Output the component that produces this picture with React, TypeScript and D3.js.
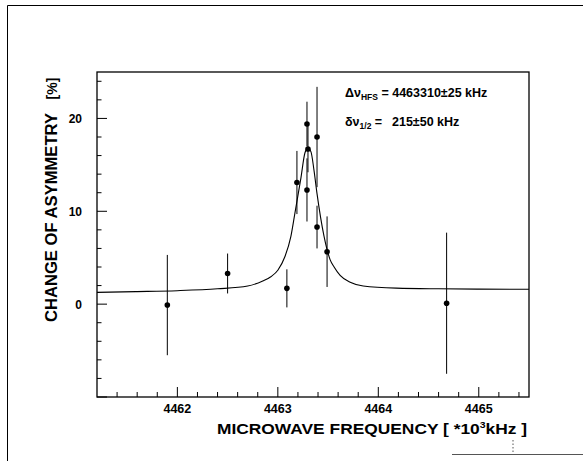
import React from "react";
import * as d3 from "d3";

const freq = [4461.9, 4462.5, 4463.09, 4463.19, 4463.29, 4463.3, 4463.29, 4463.39, 4463.39, 4463.49, 4464.68];
const asym = [-0.1, 3.3, 1.7, 13.1, 19.4, 16.7, 12.3, 18.0, 8.3, 5.65, 0.1];
const errs = [5.4, 2.15, 2.05, 3.4, 2.4, 2.5, 3.4, 5.4, 2.3, 3.8, 7.6];

const fitX = [4461.2, 4461.6, 4462.0, 4462.4, 4462.7, 4462.85, 4462.93, 4463.0, 4463.07, 4463.13, 4463.17, 4463.23, 4463.27, 4463.3, 4463.33, 4463.36, 4463.39, 4463.46, 4463.52, 4463.56, 4463.62, 4463.72, 4463.85, 4464.18, 4464.6, 4465.0, 4465.5];
const fitY = [1.27, 1.35, 1.45, 1.65, 1.95, 2.5, 2.95, 3.65, 5.1, 7.3, 9.8, 13.6, 16.3, 16.8, 16.4, 14.4, 11.9, 7.3, 4.8, 4.0, 3.1, 2.35, 1.95, 1.72, 1.65, 1.62, 1.6];

const xMajor = [4462, 4463, 4464, 4465];
const yMajor = [0, 10, 20];

const FONT = "'Liberation Sans', Arial, Helvetica, sans-serif";

export default function App() {
  const L = 97, R = 529, T = 72, B = 397;
  const x = d3.scaleLinear().domain([4461.2, 4465.5]).range([L, R]);
  const y = d3.scaleLinear().domain([-10, 25]).range([B, T]);

  const xMinor = d3.range(4461.4, 4465.5, 0.2).map((v) => Math.round(v * 10) / 10);
  const yMinor = d3.range(-10, 25.01, 2);

  const line = d3
    .line<number>()
    .x((_, i) => x(fitX[i]))
    .y((_, i) => y(fitY[i]))
    .curve(d3.curveMonotoneX);

  return (
    <svg width={583} height={461} style={{ position: "absolute", left: 0, top: 0, background: "#fff" }}>
      {/* outer page frame */}
      <line x1={7.5} y1={5.5} x2={583} y2={5.5} stroke="#000" strokeWidth={1} />
      <line x1={7.5} y1={5.5} x2={7.5} y2={461} stroke="#000" strokeWidth={1} />
      <line x1={452} y1={454.5} x2={583} y2={454.5} stroke="#555" strokeWidth={1} />
      <line x1={513} y1={440} x2={513} y2={454} stroke="#555" strokeWidth={1} strokeDasharray="1.5,2" />

      {/* plot frame */}
      <rect x={L} y={T} width={R - L} height={B - T} fill="none" stroke="#000" strokeWidth={1.3} />

      {/* x ticks */}
      {xMinor.map((v) => (
        <line key={"xm" + v} x1={x(v)} x2={x(v)} y1={B} y2={B - (xMajor.includes(v) ? 10 : 5)} stroke="#000" strokeWidth={1} />
      ))}
      {xMajor.map((v) => (
        <text key={"xl" + v} x={x(v)} y={412.5} textAnchor="middle" fontFamily={FONT} fontWeight="bold" fontSize={12.5}>
          {v}
        </text>
      ))}

      {/* y ticks */}
      {yMinor.map((v) => (
        <line key={"ym" + v} x1={L} x2={L + (v % 10 === 0 ? 10 : 4.5)} y1={y(v)} y2={y(v)} stroke="#000" strokeWidth={1} />
      ))}
      {yMajor.map((v) => (
        <text key={"yl" + v} x={82} y={y(v) + 4.5} textAnchor="end" fontFamily={FONT} fontWeight="bold" fontSize={12}>
          {v}
        </text>
      ))}

      {/* fit curve */}
      <path d={line(fitX) || ""} fill="none" stroke="#000" strokeWidth={1.1} />

      {/* data with error bars */}
      {freq.map((f, i) => (
        <g key={"p" + i}>
          <line x1={x(f)} x2={x(f)} y1={y(asym[i] - errs[i])} y2={y(asym[i] + errs[i])} stroke="#000" strokeWidth={1} />
          <circle cx={x(f)} cy={y(asym[i])} r={2.8} fill="#000" />
        </g>
      ))}

      {/* annotations */}
      <text x={345} y={97} fontFamily={FONT} fontWeight="bold" fontSize={12.5}>
        Δν
        <tspan fontSize={8.5} dy={3}>HFS</tspan>
        <tspan dy={-3}> = 4463310±25 kHz</tspan>
      </text>
      <text x={345} y={126} fontFamily={FONT} fontWeight="bold" fontSize={12.5}>
        δν
        <tspan fontSize={8.5} dy={3}>1/2</tspan>
        <tspan dy={-3}> =</tspan>
      </text>
      <text x={392} y={126} fontFamily={FONT} fontWeight="bold" fontSize={12.5}>
        215±50 kHz
      </text>

      {/* axis titles */}
      <text x={217} y={433.5} fontFamily={FONT} fontWeight="bold" fontSize={15} textLength={310} lengthAdjust="spacingAndGlyphs">
        MICROWAVE FREQUENCY [ *10
        <tspan fontSize={9} dy={-6}>3</tspan>
        <tspan dy={6}>kHz ]</tspan>
      </text>
      <text
        transform={`translate(56.5, 217.5) rotate(-90)`}
        textAnchor="middle"
        fontFamily={FONT}
        fontWeight="bold"
        fontSize={16}
        textLength={209}
        lengthAdjust="spacingAndGlyphs"
      >
        CHANGE OF ASYMMETRY
      </text>
      <text transform={`translate(56.5, 88.5) rotate(-90)`} textAnchor="middle" fontFamily={FONT} fontWeight="bold" fontSize={14}>
        [%]
      </text>
    </svg>
  );
}
